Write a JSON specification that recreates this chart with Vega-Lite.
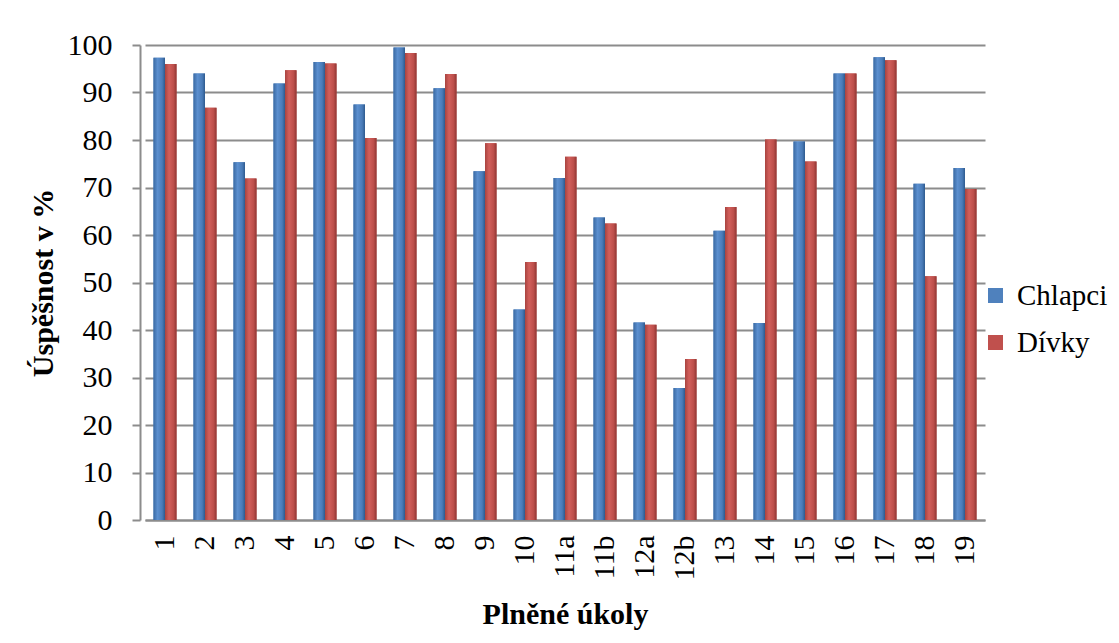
{
  "$schema": "https://vega.github.io/schema/vega-lite/v6.json",
  "width": 840,
  "height": 475,
  "autosize": "none",
  "padding": {"left": 145, "top": 45, "right": 134, "bottom": 123},
  "background": "white",
  "config": {
    "font": "Liberation Serif, Times New Roman, serif",
    "view": {"stroke": null},
    "text": {"font": "Liberation Serif, Times New Roman, serif"},
    "legend": {"labelFont": "Liberation Serif, Times New Roman, serif", "titleFont": "Liberation Serif, Times New Roman, serif"},
    "axis": {"labelFont": "Liberation Serif, Times New Roman, serif", "titleFont": "Liberation Serif, Times New Roman, serif", "labelColor": "black", "titleColor": "black"}
  },
  "data": {"values": [
    {"ukol": "1", "pohlavi": "Chlapci", "hodnota": 97.3}, {"ukol": "1", "pohlavi": "Dívky", "hodnota": 96.0},
    {"ukol": "2", "pohlavi": "Chlapci", "hodnota": 94.0}, {"ukol": "2", "pohlavi": "Dívky", "hodnota": 86.8},
    {"ukol": "3", "pohlavi": "Chlapci", "hodnota": 75.3}, {"ukol": "3", "pohlavi": "Dívky", "hodnota": 71.9},
    {"ukol": "4", "pohlavi": "Chlapci", "hodnota": 91.9}, {"ukol": "4", "pohlavi": "Dívky", "hodnota": 94.7},
    {"ukol": "5", "pohlavi": "Chlapci", "hodnota": 96.4}, {"ukol": "5", "pohlavi": "Dívky", "hodnota": 96.1},
    {"ukol": "6", "pohlavi": "Chlapci", "hodnota": 87.5}, {"ukol": "6", "pohlavi": "Dívky", "hodnota": 80.4},
    {"ukol": "7", "pohlavi": "Chlapci", "hodnota": 99.5}, {"ukol": "7", "pohlavi": "Dívky", "hodnota": 98.3},
    {"ukol": "8", "pohlavi": "Chlapci", "hodnota": 90.9}, {"ukol": "8", "pohlavi": "Dívky", "hodnota": 93.9},
    {"ukol": "9", "pohlavi": "Chlapci", "hodnota": 73.4}, {"ukol": "9", "pohlavi": "Dívky", "hodnota": 79.3},
    {"ukol": "10", "pohlavi": "Chlapci", "hodnota": 44.3}, {"ukol": "10", "pohlavi": "Dívky", "hodnota": 54.3},
    {"ukol": "11a", "pohlavi": "Chlapci", "hodnota": 72.0}, {"ukol": "11a", "pohlavi": "Dívky", "hodnota": 76.5},
    {"ukol": "11b", "pohlavi": "Chlapci", "hodnota": 63.7}, {"ukol": "11b", "pohlavi": "Dívky", "hodnota": 62.4},
    {"ukol": "12a", "pohlavi": "Chlapci", "hodnota": 41.6}, {"ukol": "12a", "pohlavi": "Dívky", "hodnota": 41.1},
    {"ukol": "12b", "pohlavi": "Chlapci", "hodnota": 27.8}, {"ukol": "12b", "pohlavi": "Dívky", "hodnota": 33.9},
    {"ukol": "13", "pohlavi": "Chlapci", "hodnota": 60.9}, {"ukol": "13", "pohlavi": "Dívky", "hodnota": 65.9},
    {"ukol": "14", "pohlavi": "Chlapci", "hodnota": 41.5}, {"ukol": "14", "pohlavi": "Dívky", "hodnota": 80.1},
    {"ukol": "15", "pohlavi": "Chlapci", "hodnota": 79.7}, {"ukol": "15", "pohlavi": "Dívky", "hodnota": 75.5},
    {"ukol": "16", "pohlavi": "Chlapci", "hodnota": 94.0}, {"ukol": "16", "pohlavi": "Dívky", "hodnota": 94.0},
    {"ukol": "17", "pohlavi": "Chlapci", "hodnota": 97.4}, {"ukol": "17", "pohlavi": "Dívky", "hodnota": 96.8},
    {"ukol": "18", "pohlavi": "Chlapci", "hodnota": 70.8}, {"ukol": "18", "pohlavi": "Dívky", "hodnota": 51.3},
    {"ukol": "19", "pohlavi": "Chlapci", "hodnota": 74.1}, {"ukol": "19", "pohlavi": "Dívky", "hodnota": 69.7}
  ]},
  "encoding": {
    "x": {
      "field": "ukol", "type": "nominal", "sort": null,
      "scale": {"paddingInner": 0.425, "paddingOuter": 0.2125},
      "axis": {
        "title": "Plněné úkoly", "titleFontSize": 30, "titleFontWeight": "bold", "titlePadding": 19,
        "titleFont": "Liberation Serif, Times New Roman, serif",
        "labelFont": "Liberation Serif, Times New Roman, serif",
        "labelAngle": -90, "labelFontSize": 30, "labelPadding": 15, "ticks": false,
        "domainColor": "#8c8c8c", "domainWidth": 2
      }
    },
    "xOffset": {"field": "pohlavi", "type": "nominal", "scale": {"paddingInner": 0, "paddingOuter": 0}},
    "y": {
      "field": "hodnota", "type": "quantitative",
      "scale": {"domain": [0, 100], "nice": false},
      "axis": {
        "title": "Úspěšnost v %", "titleFontSize": 30, "titleFontWeight": "bold", "titlePadding": 9,
        "titleFont": "Liberation Serif, Times New Roman, serif",
        "labelFont": "Liberation Serif, Times New Roman, serif",
        "values": [0, 10, 20, 30, 40, 50, 60, 70, 80, 90, 100],
        "labelFontSize": 30, "labelPadding": 20, "tickSize": 8, "tickColor": "#8c8c8c", "tickWidth": 2,
        "domainColor": "#8c8c8c", "domainWidth": 2, "offset": 5,
        "grid": true, "gridColor": "#8c8c8c", "gridWidth": 2
      }
    }
  },
  "layer": [
    {
      "mark": {"type": "bar"},
      "encoding": {
        "color": {
          "field": "pohlavi", "type": "nominal",
          "scale": {"domain": ["Chlapci", "Dívky"], "range": ["#4F81BD", "#C0504D"]},
          "legend": {
            "title": null, "orient": "none", "legendX": 836, "legendY": 236,
            "symbolType": "square", "symbolSize": 225, "symbolStrokeWidth": 0,
            "labelFontSize": 29, "labelFont": "Liberation Serif, Times New Roman, serif", "labelColor": "black", "labelOffset": 7,
            "labelLimit": 200,
            "rowPadding": 17, "padding": 0
          }
        }
      }
    },
    {
      "transform": [{"filter": "datum.pohlavi === 'Chlapci'"}],
      "mark": {"type": "bar", "fill": {"gradient": "linear", "x1": 0, "x2": 1, "y1": 0, "y2": 0, "stops": [
        {"offset": 0, "color": "#3A6AA3"}, {"offset": 0.35, "color": "#5B8FCF"}, {"offset": 0.75, "color": "#4A7CB9"}, {"offset": 1, "color": "#2E5A8E"}]}}
    },
    {
      "transform": [{"filter": "datum.pohlavi === 'Dívky'"}],
      "mark": {"type": "bar", "fill": {"gradient": "linear", "x1": 0, "x2": 1, "y1": 0, "y2": 0, "stops": [
        {"offset": 0, "color": "#A8433F"}, {"offset": 0.35, "color": "#D25F5B"}, {"offset": 0.75, "color": "#BC4E4A"}, {"offset": 1, "color": "#8F3633"}]}}
    }
  ]
}
